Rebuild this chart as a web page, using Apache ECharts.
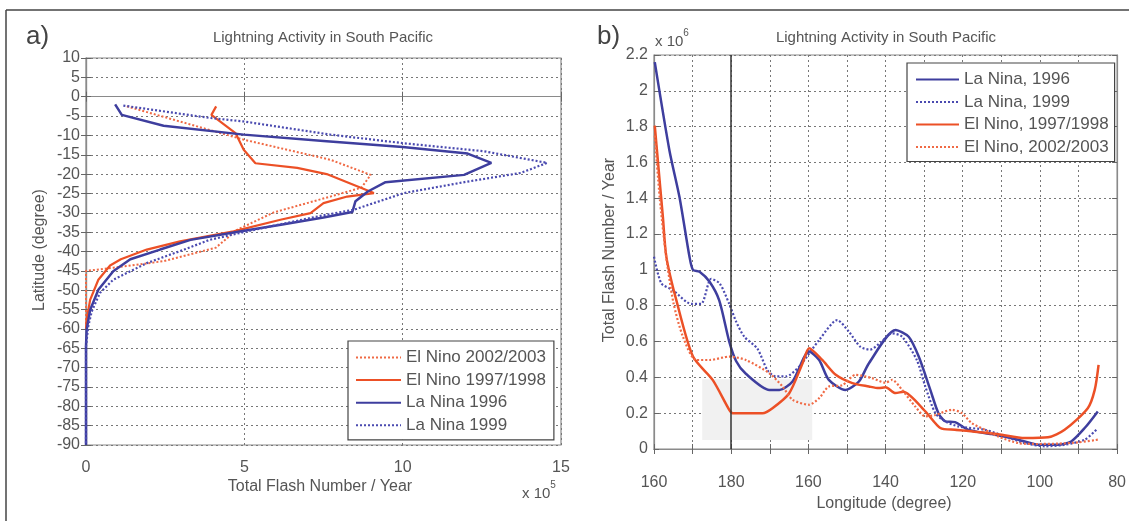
<!DOCTYPE html>
<html>
<head>
<meta charset="utf-8">
<script src="https://cdn.jsdelivr.net/npm/echarts@6/dist/echarts.min.js"></script>
<style>
html,body{margin:0;padding:0;background:#fff;}
#c{width:1129px;height:521px;}
</style>
</head>
<body>
<div id="c"></div>
<script>
// ---------- Panel a: latitude profile, [flash (x1e5), latitude] ----------
const latTicksA = { min: -90, max: 10, step: 5 };
const flashTicksA = { min: 0, max: 15, step: 5 };
const nameElNino0203A = 'El Nino 2002/2003';
const nameElNino9798A = 'El Nino 1997/1998';
const nameLaNina96A = 'La Nina 1996';
const nameLaNina99A = 'La Nina 1999';

const laNina96Lat = [[0.92,-2],[1.13,-4.7],[2.45,-7.5],[4.98,-9.8],[7.6,-11.5],[10,-13],[12.05,-14.7],[12.8,-17.1],[11.94,-20.2],[9.46,-22.1],[8.9,-24.5],[8.51,-27],[8.41,-29.8],[7.5,-31.2],[6.2,-33],[4.66,-35.1],[3.3,-37],[2.34,-39.5],[1.4,-42],[0.86,-45.1],[0.39,-49.9],[0.13,-55.1],[0.02,-60.2],[0,-64.5],[0,-90]];
const laNina99Lat = [[1.18,-2.3],[3.92,-5.5],[4.98,-6.4],[7.72,-9.8],[10,-12],[12.57,-14.1],[14.56,-17.1],[13.73,-19.7],[12,-22],[10.04,-24.9],[8.46,-29.2],[7.4,-30.8],[5.08,-34.8],[3.9,-37],[3.1,-39.5],[1.92,-43],[0.86,-47.3],[0.44,-50.7],[0.18,-55.5],[0.07,-59.4],[0,-64.5],[0,-90]];
const elNino9798Lat = [[4.11,-2.5],[3.96,-4.7],[4.72,-9.4],[4.98,-13.7],[5.35,-17.2],[6.67,-18.4],[7.6,-20],[9.09,-24.9],[8.25,-25.8],[7.5,-27.5],[7.09,-30.1],[6.14,-31.8],[4.66,-34.8],[2.97,-37.4],[1.92,-39.5],[1.1,-42],[0.76,-43.6],[0.39,-47.3],[0.13,-52.5],[0.02,-57.7],[0,-60]];
const elNino0203Lat = [[1.29,-2.5],[4.98,-11.1],[7.72,-16.3],[8.99,-20.2],[8.7,-23.5],[7.72,-25.8],[5.93,-29.9],[4.77,-34.4],[4.1,-39],[2.45,-42.5],[0.86,-44.2],[0.23,-44.8],[0,-45],[0,-60]];

// ---------- Panel b: longitude profile, [longitude (deg E), flash (x1e6)] ----------
const lonTicksB = { min: 160, max: 280, step: 10 };
const flashTicksB = { min: 0, max: 2.2, step: 0.2 };
const nameLaNina96B = 'La Nina, 1996';
const nameLaNina99B = 'La Nina, 1999';
const nameElNino9798B = 'El Nino, 1997/1998';
const nameElNino0203B = 'El Nino, 2002/2003';

const laNina96Lon = [[160.2,2.16],[164,1.667],[166.6,1.407],[169.2,1.073],[170.1,1.0],[171.8,0.99],[174.4,0.934],[176.9,0.83],[179.5,0.6],[181.3,0.49],[183.8,0.42],[189.9,0.33],[192.5,0.33],[195.9,0.377],[200.2,0.544],[202.8,0.497],[205.3,0.386],[209.6,0.33],[213.1,0.377],[215.7,0.479],[222.6,0.665],[226,0.627],[228.6,0.516],[231.6,0.33],[233.7,0.2],[235.5,0.154],[238,0.15],[241.5,0.107],[247.5,0.083],[254.4,0.052],[259.5,0.024],[264.7,0.024],[268.1,0.042],[271.6,0.117],[275,0.21]];
const laNina99Lon = [[160,1.073],[161.9,0.925],[164.9,0.887],[169.7,0.81],[172.2,0.81],[174.8,0.95],[177,0.925],[179.5,0.81],[181.3,0.71],[183.4,0.627],[186.8,0.56],[189.4,0.44],[191.6,0.405],[194.2,0.405],[197.6,0.46],[202.8,0.609],[207.5,0.72],[210.5,0.655],[213.5,0.57],[216,0.555],[219,0.6],[221.7,0.646],[224.3,0.627],[228.1,0.497],[230.3,0.349],[232.9,0.2],[235.5,0.154],[238.9,0.126],[245.8,0.107],[251,0.07],[256.1,0.033],[261.3,0.015],[266.5,0.024],[271.6,0.052],[274.6,0.107]];
const elNino9798Lon = [[160.2,1.806],[161,1.61],[162.3,1.296],[163.2,1.073],[165.8,0.83],[170.1,0.516],[175.2,0.386],[179.5,0.219],[180.4,0.2],[188.1,0.2],[190.7,0.228],[195,0.31],[198.5,0.479],[200.2,0.563],[203.6,0.497],[207.1,0.414],[211.4,0.368],[215.7,0.349],[218.2,0.34],[220,0.345],[222.6,0.312],[224.6,0.32],[230.3,0.21],[234.2,0.117],[238,0.107],[241.5,0.1],[249.2,0.083],[256.1,0.061],[262.1,0.065],[266.4,0.107],[272.4,0.228],[274.2,0.33],[275.2,0.47]];
const elNino0203Lon = [[160.2,1.75],[161.5,1.4],[163,1.1],[165,0.82],[167.5,0.627],[170.9,0.497],[174.4,0.497],[179.5,0.516],[183.8,0.497],[189.9,0.423],[193.3,0.349],[195.9,0.275],[200.2,0.247],[202.8,0.284],[205.3,0.349],[208.8,0.356],[212.2,0.414],[216.5,0.396],[220,0.37],[221.7,0.386],[224.3,0.33],[227.7,0.237],[230.3,0.182],[232.9,0.19],[237.2,0.219],[239.8,0.2],[242.3,0.145],[245.8,0.107],[249.2,0.07],[254.4,0.033],[259.5,0.028],[264.7,0.03],[269.9,0.037],[275,0.052]];
const dateLine = 180;
const shadeBox = [[172.5, 0.05], [201, 0.39]];

// ---------- styling ----------
const FONT = '"Liberation Sans", Arial, sans-serif';
const TXT = '#555';
const BLUE = '#3e3e9e';
const BLUE_D = '#4a4ab0';
const RED = '#ec5026';
const RED_D = '#f06a45';
const gridLine = { show: true, lineStyle: { color: '#777', type: [2, 3], width: 1 } };
const axLine = { show: true, lineStyle: { color: '#8a8a8a', width: 1.2 } };
const tick = { show: true, inside: true, length: 5, lineStyle: { color: '#666' } };

function mirrorAxis(base, pos) {
  return Object.assign({}, base, {
    position: pos, axisLabel: { show: false }, splitLine: { show: false }, name: ''
  });
}

const xA = { type: 'value', gridIndex: 0, min: flashTicksA.min, max: flashTicksA.max, interval: flashTicksA.step,
  axisLine: axLine, axisTick: tick, splitLine: gridLine,
  axisLabel: { color: TXT, fontFamily: FONT, fontSize: 16, margin: 15 } };
const yA = { type: 'value', gridIndex: 0, min: latTicksA.min, max: latTicksA.max, interval: latTicksA.step,
  axisLine: axLine, axisTick: tick, splitLine: gridLine,
  axisLabel: { color: TXT, fontFamily: FONT, fontSize: 16, margin: 6 } };
const xB = { type: 'value', gridIndex: 1, min: lonTicksB.min, max: lonTicksB.max, interval: lonTicksB.step,
  axisLine: axLine, axisTick: tick, splitLine: gridLine,
  axisLabel: { color: TXT, fontFamily: FONT, fontSize: 16, margin: 26,
    formatter: v => (v % 20 === 0 ? String(v <= 180 ? v : 360 - v) : '') } };
const yB = { type: 'value', gridIndex: 1, min: flashTicksB.min, max: flashTicksB.max, interval: flashTicksB.step,
  axisLine: axLine, axisTick: tick, splitLine: gridLine,
  axisLabel: { color: TXT, fontFamily: FONT, fontSize: 16, margin: 6,
    formatter: v => String(Math.round(v * 10) / 10) } };

function ln(name, data, xi, yi, color, dotted, width, extra) {
  return Object.assign({
    name, type: 'line', data, xAxisIndex: xi, yAxisIndex: yi, symbol: 'none',
    smooth: false, silent: true, animation: false,
    lineStyle: { color, width, type: dotted ? [2, 2] : 'solid' },
    itemStyle: { color }
  }, extra || {});
}

const legendText = { color: TXT, fontFamily: FONT, fontSize: 17 };

const option = {
  backgroundColor: '#fff',
  animation: false,
  textStyle: { fontFamily: FONT },
  grid: [
    { left: 86, top: 58, width: 475, height: 387, show: true, borderColor: '#8a8a8a', borderWidth: 1.2 },
    { left: 654, top: 55, width: 464, height: 394, show: true, borderColor: '#8a8a8a', borderWidth: 1.2 }
  ],
  xAxis: [xA, xB, mirrorAxis(xA, 'top'), mirrorAxis(xB, 'top')],
  yAxis: [yA, yB, mirrorAxis(yA, 'right'), mirrorAxis(yB, 'right')],
  legend: [
    { orient: 'vertical', left: 348, top: 341,
      data: [nameElNino0203A, nameElNino9798A, nameLaNina96A, nameLaNina99A],
      backgroundColor: '#fff', borderColor: '#444', borderWidth: 1.2, padding: [8, 8, 6, 7],
      itemWidth: 45, itemHeight: 14, itemGap: 5.6,
      itemStyle: { opacity: 0 },
      textStyle: legendText },
    { orient: 'vertical', left: 907, top: 63,
      data: [nameLaNina96B, nameLaNina99B, nameElNino9798B, nameElNino0203B],
      backgroundColor: '#fff', borderColor: '#444', borderWidth: 1.2, padding: [8, 6, 6, 8],
      itemWidth: 43, itemHeight: 14, itemGap: 5.5,
      itemStyle: { opacity: 0 },
      textStyle: legendText }
  ],
  series: [
    ln(nameElNino0203A, elNino0203Lat, 0, 0, RED_D, true, 2),
    ln(nameElNino9798A, elNino9798Lat, 0, 0, RED, false, 2.2),
    ln(nameLaNina96A, laNina96Lat, 0, 0, BLUE, false, 2.5),
    ln(nameLaNina99A, laNina99Lat, 0, 0, BLUE_D, true, 2.2),
    ln(nameLaNina96B, laNina96Lon, 1, 1, BLUE, false, 2.5, {
      smooth: 0.25,
      markLine: { silent: true, symbol: 'none', label: { show: false },
        lineStyle: { color: '#333', type: 'solid', width: 1.5 }, data: [{ xAxis: dateLine }] },
      markArea: { silent: true, itemStyle: { color: '#f1f1f1' },
        data: [[{ coord: shadeBox[0] }, { coord: shadeBox[1] }]] }
    }),
    ln(nameLaNina99B, laNina99Lon, 1, 1, BLUE_D, true, 2.2, { smooth: 0.25 }),
    ln(nameElNino9798B, elNino9798Lon, 1, 1, RED, false, 2.5, { smooth: 0.25 }),
    ln(nameElNino0203B, elNino0203Lon, 1, 1, RED_D, true, 2.2, { smooth: 0.25 })
  ],
  graphic: [
    { type: 'line', shape: { x1: 6, y1: 10, x2: 1129, y2: 10 }, style: { stroke: '#444', lineWidth: 1.5 }, silent: true },
    { type: 'line', shape: { x1: 6, y1: 10, x2: 6, y2: 521 }, style: { stroke: '#444', lineWidth: 1.5 }, silent: true },
    { type: 'text', left: 26, top: 24, style: { text: 'a)', font: '26px ' + FONT, fill: '#444' } },
    { type: 'text', left: 597, top: 24, style: { text: 'b)', font: '26px ' + FONT, fill: '#444' } },
    { type: 'text', x: 323, y: 38, style: { text: 'Lightning Activity in South Pacific', font: '15px ' + FONT, fill: TXT, align: 'center', verticalAlign: 'middle' } },
    { type: 'text', x: 886, y: 38, style: { text: 'Lightning Activity in South Pacific', font: '15px ' + FONT, fill: TXT, align: 'center', verticalAlign: 'middle' } },
    { type: 'text', x: 320, y: 487, style: { text: 'Total Flash Number / Year', font: '16px ' + FONT, fill: TXT, align: 'center', verticalAlign: 'middle' } },
    { type: 'text', x: 884, y: 504, style: { text: 'Longitude (degree)', font: '16px ' + FONT, fill: TXT, align: 'center', verticalAlign: 'middle' } },
    { type: 'text', x: 40, y: 250, rotation: Math.PI / 2, style: { text: 'Latitude (degree)', font: '16px ' + FONT, fill: TXT, align: 'center', verticalAlign: 'middle' } },
    { type: 'text', x: 610, y: 250, rotation: Math.PI / 2, style: { text: 'Total Flash Number / Year', font: '16px ' + FONT, fill: TXT, align: 'center', verticalAlign: 'middle' } },
    { type: 'text', left: 522, top: 480, style: { rich: { a: { fontSize: 15, fontFamily: FONT, fill: TXT, padding: [6, 0, 0, 0] }, s: { fontSize: 10, fontFamily: FONT, fill: TXT, verticalAlign: 'top' } }, text: '{a|x 10}{s|5}' } },
    { type: 'text', left: 655, top: 28, style: { rich: { a: { fontSize: 15, fontFamily: FONT, fill: TXT, padding: [6, 0, 0, 0] }, s: { fontSize: 10, fontFamily: FONT, fill: TXT, verticalAlign: 'top' } }, text: '{a|x 10}{s|6}' } }
  ]
};

const chart = echarts.init(document.getElementById('c'), null, { renderer: 'canvas' });
chart.setOption(option);
</script>
</body>
</html>
